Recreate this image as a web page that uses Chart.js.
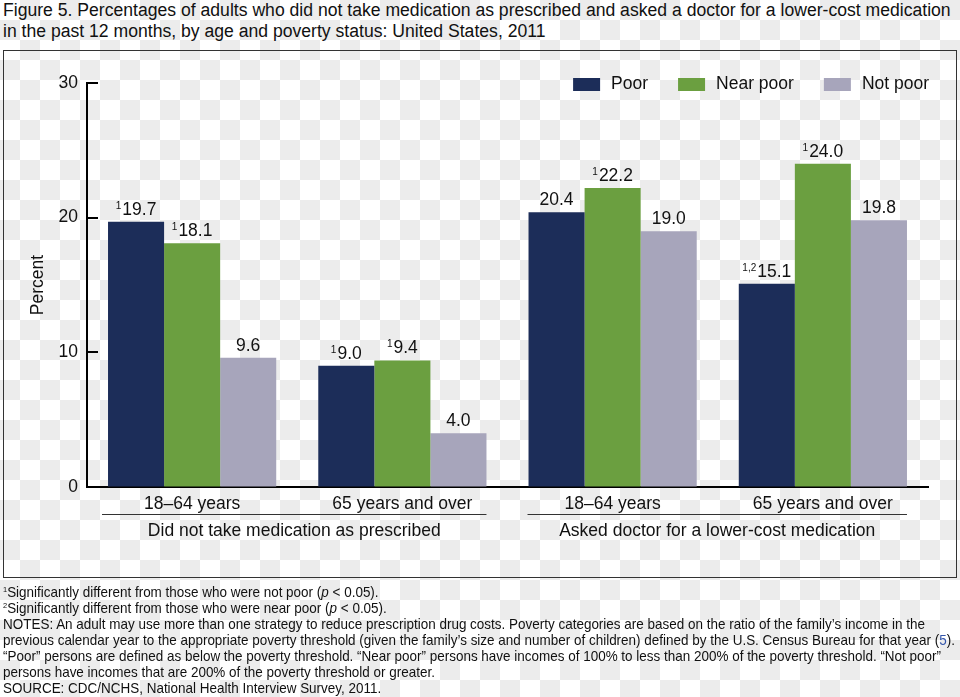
<!DOCTYPE html>
<html><head><meta charset="utf-8">
<script src="https://cdn.jsdelivr.net/npm/chart.js@4/dist/chart.umd.min.js"></script>
<style>
html,body{margin:0;padding:0;}
body{width:960px;height:697px;position:relative;overflow:hidden;
background-color:#fff;
background-image:conic-gradient(#ececec 0 25%, #fff 0 50%, #ececec 0 75%, #fff 0);
background-size:40px 40px;
font-family:"Liberation Sans",Arial,sans-serif;color:#111;}
#title{position:absolute;left:3px;top:0;font-size:17.6px;line-height:21px;white-space:nowrap;}
#frame{position:absolute;left:3px;top:50px;width:952px;height:526px;border:1px solid #333;}
#c{position:absolute;left:0;top:0;}
#notes{position:absolute;left:3px;top:584px;font-family:"Liberation Sans",sans-serif;font-size:14.5px;line-height:16px;white-space:nowrap;transform-origin:0 0;}
#notes sup{font-size:8px;vertical-align:top;line-height:1;position:relative;top:2px;}
</style></head>
<body>
<div id="title">Figure 5. Percentages of adults who did not take medication as prescribed and asked a doctor for a lower-cost medication<br>in the past 12 months, by age and poverty status: United States, 2011</div>
<div id="frame"></div>
<canvas id="c" width="960" height="697"></canvas>
<div id="notes">
<div><sup>1</sup>Significantly different from those who were not poor (<i>p</i> &lt; 0.05).</div>
<div><sup>2</sup>Significantly different from those who were near poor (<i>p</i> &lt; 0.05).</div>
<div>NOTES: An adult may use more than one strategy to reduce prescription drug costs. Poverty categories are based on the ratio of the family’s income in the</div>
<div><span id="longline">previous calendar year to the appropriate poverty threshold (given the family’s size and number of children) defined by the U.S. Census Bureau for that year (<span style="color:#3355aa">5</span>).</span></div>
<div>“Poor” persons are defined as below the poverty threshold. “Near poor” persons have incomes of 100% to less than 200% of the poverty threshold. “Not poor”</div>
<div>persons have incomes that are 200% of the poverty threshold or greater.</div>
<div>SOURCE: CDC/NCHS, National Health Interview Survey, 2011.</div>
</div>
<script>
const categories = ['18–64 years', '65 years and over', '18–64 years', '65 years and over'];
const groupLabels = ['Did not take medication as prescribed', 'Asked doctor for a lower-cost medication'];
const seriesNames = ['Poor', 'Near poor', 'Not poor'];
const poor = [19.7, 9.0, 20.4, 15.1];
const nearPoor = [18.1, 9.4, 22.2, 24.0];
const notPoor = [9.6, 4.0, 19.0, 19.8];
const poorMarks = ['1', '1', '', '1,2'];
const nearPoorMarks = ['1', '1', '1', '1'];
const notPoorMarks = ['', '', '', ''];
const yTicks = [0, 10, 20, 30];

const colors = ['#1c2d59', '#6b9f40', '#a7a5bb'];
const FONT = '"Liberation Sans", Arial, sans-serif';

// condense footnotes to the reference width
(function () {
  const ll = document.getElementById('longline');
  const w = ll.getBoundingClientRect().width;
  const k = 952 / w;
  document.getElementById('notes').style.transform = 'scaleX(' + k + ')';
})();

const overlay = {
  id: 'overlay',
  afterDraw(chart) {
    const ctx = chart.ctx, ca = chart.chartArea, xs = chart.scales.x, ys = chart.scales.y;
    ctx.save();
    ctx.strokeStyle = '#000'; ctx.lineWidth = 2;
    yTicks.forEach(v => {
      if (v === 0) return;
      const py = Math.round(ys.getPixelForValue(v));
      ctx.beginPath(); ctx.moveTo(ca.left - 1, py); ctx.lineTo(ca.left + 11, py); ctx.stroke();
    });
    chart.data.datasets.forEach((ds, di) => {
      const meta = chart.getDatasetMeta(di);
      meta.data.forEach((bar, i) => {
        const txt = ds.data[i].toFixed(1);
        const mark = ds.marks[i];
        ctx.font = '17.5px ' + FONT;
        const w1 = ctx.measureText(txt).width;
        ctx.font = '10px ' + FONT;
        const w2 = mark ? ctx.measureText(mark).width + 1 : 0;
        const left = bar.x - (w1 + w2) / 2;
        const base = bar.y - 7;
        ctx.fillStyle = '#111';
        ctx.textAlign = 'left'; ctx.textBaseline = 'alphabetic';
        if (mark) { ctx.font = '10px ' + FONT; ctx.fillText(mark, left, base - 6); }
        ctx.font = '17.5px ' + FONT; ctx.fillText(txt, left + w2, base);
      });
    });
    const cw = (xs.getPixelForValue(1) - xs.getPixelForValue(0));
    const spans = [[0, 1], [2, 3]];
    spans.forEach((s, gi) => {
      const x1 = xs.getPixelForValue(s[0]) - 0.4 * cw - (gi === 0 ? 6 : 1);
      const x2 = xs.getPixelForValue(s[1]) + 0.4 * cw;
      ctx.strokeStyle = '#333'; ctx.lineWidth = 1;
      ctx.beginPath(); ctx.moveTo(x1, 514.5); ctx.lineTo(x2, 514.5); ctx.stroke();
      ctx.fillStyle = '#111'; ctx.font = '17.5px ' + FONT;
      ctx.textAlign = 'center'; ctx.textBaseline = 'middle';
      ctx.fillText(groupLabels[gi], (x1 + x2) / 2, 531);
    });
    ctx.font = '17.5px ' + FONT;
    ctx.textAlign = 'left'; ctx.textBaseline = 'middle';
    let xr = ca.right + 1;
    const items = chart.data.datasets.map(d => ({label: d.label, color: d.backgroundColor, w: ctx.measureText(d.label).width}));
    const pos = [];
    for (let k = items.length - 1; k >= 0; k--) {
      const it = items[k];
      const tx = xr - it.w;
      const bx = tx - 11 - 27;
      pos[k] = {bx, tx};
      xr = bx - 30;
    }
    items.forEach((it, k) => {
      ctx.fillStyle = it.color;
      ctx.fillRect(pos[k].bx, 78, 27, 13);
      ctx.fillStyle = '#111';
      ctx.fillText(it.label, pos[k].tx, 84.5);
    });
    ctx.restore();
  }
};

new Chart(document.getElementById('c'), {
  type: 'bar',
  data: {
    labels: categories,
    datasets: [
      {label: seriesNames[0], data: poor, marks: poorMarks, backgroundColor: colors[0]},
      {label: seriesNames[1], data: nearPoor, marks: nearPoorMarks, backgroundColor: colors[1]},
      {label: seriesNames[2], data: notPoor, marks: notPoorMarks, backgroundColor: colors[2]}
    ]
  },
  options: {
    responsive: false,
    animation: false,
    events: [],
    categoryPercentage: 0.8,
    barPercentage: 1.0,
    layout: {padding: {left: 28, top: 83, right: 32, bottom: 150}},
    plugins: {legend: {display: false}, tooltip: {enabled: false}},
    scales: {
      x: {
        offset: true,
        grid: {display: true, drawOnChartArea: false, drawTicks: false},
        border: {display: true, color: '#000', width: 2},
        ticks: {color: '#111', font: {size: 17.5, family: FONT}, padding: 7, maxRotation: 0, autoSkip: false},
        afterFit(s) { s.height = 60; }
      },
      y: {
        min: 0, max: 30,
        grid: {display: true, drawOnChartArea: false, drawTicks: false},
        border: {display: true, color: '#000', width: 2},
        ticks: {stepSize: 10, color: '#111', font: {size: 17.5, family: FONT}, padding: 9},
        title: {display: true, text: 'Percent', color: '#111', font: {size: 17.5, family: FONT}, padding: {top: 0, bottom: 0}},
        afterFit(s) { s.width = 59; }
      }
    }
  },
  plugins: [overlay]
});
</script>
</body></html>
